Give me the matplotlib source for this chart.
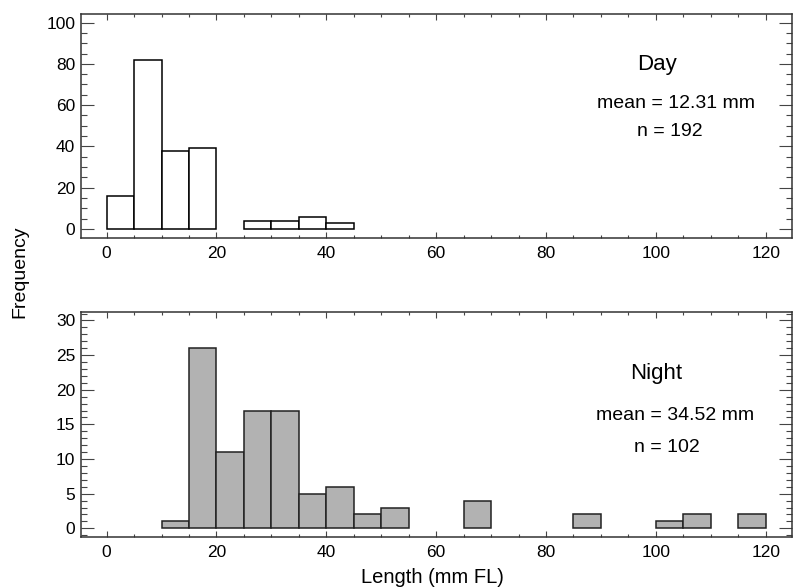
import numpy as np
import matplotlib.pyplot as plt
from matplotlib.ticker import MultipleLocator

plt.rcParams['font.family'] = ['Liberation Sans', 'DejaVu Sans']

# bin left edges (mm FL), bin width 5
day_bins = [0, 5, 10, 15, 25, 30, 35, 40]
day_counts = [16, 82, 38, 39, 4, 4, 6, 3]

night_bins = [10, 15, 20, 25, 30, 35, 40, 45, 50, 65, 85, 100, 105, 115]
night_counts = [1, 26, 11, 17, 17, 5, 6, 2, 3, 4, 2, 1, 2, 2]

bin_width = 5
x_ticks = [0, 20, 40, 60, 80, 100, 120]

fig = plt.figure(figsize=(8, 5.87), dpi=100)
ax1 = fig.add_axes([0.101, 0.5946, 0.889, 0.382])
ax2 = fig.add_axes([0.101, 0.0852, 0.889, 0.383])

ax1.bar(day_bins, day_counts, width=bin_width, align='edge',
        facecolor='white', edgecolor='black', linewidth=1.1)
ax2.bar(night_bins, night_counts, width=bin_width, align='edge',
        facecolor='#b2b2b2', edgecolor='#222222', linewidth=1.1)

ax1.set_ylim(-4.4, 104.3)
ax1.yaxis.set_major_locator(MultipleLocator(20))
ax1.yaxis.set_minor_locator(MultipleLocator(5))
ax2.set_ylim(-1.25, 31.2)
ax2.yaxis.set_major_locator(MultipleLocator(5))
ax2.yaxis.set_minor_locator(MultipleLocator(1))

for ax in (ax1, ax2):
    ax.set_xlim(-4.7, 124.8)
    ax.set_xticks(x_ticks)
    ax.xaxis.set_minor_locator(MultipleLocator(5))
    ax.tick_params(which='both', direction='in', top=True, right=True,
                   labelsize=12.5, width=0.8, color='#444444')
    ax.tick_params(axis='y', which='major', length=9.5, pad=4)
    ax.tick_params(axis='y', which='minor', length=4)
    ax.tick_params(axis='x', which='major', length=4, pad=6)
    ax.tick_params(axis='x', which='minor', length=2.5)
    for s in ax.spines.values():
        s.set_linewidth(1.1)
        s.set_color('#333333')

ax1.text(100.2, 79.5, 'Day', ha='center', va='center', fontsize=16)
ax1.text(103.6, 61, 'mean = 12.31 mm', ha='center', va='center', fontsize=14)
ax1.text(102.5, 47, 'n = 192', ha='center', va='center', fontsize=14)

ax2.text(100, 22.4, 'Night', ha='center', va='center', fontsize=16)
ax2.text(103.5, 16.3, 'mean = 34.52 mm', ha='center', va='center', fontsize=14)
ax2.text(102, 11.7, 'n = 102', ha='center', va='center', fontsize=14)

fig.text(0.025, 0.537, 'Frequency', rotation=90, ha='center', va='center', fontsize=14)
fig.text(0.54, 0.016, 'Length (mm FL)', ha='center', va='center', fontsize=14.5)

fig.savefig('out.png', dpi=100, facecolor='white')
